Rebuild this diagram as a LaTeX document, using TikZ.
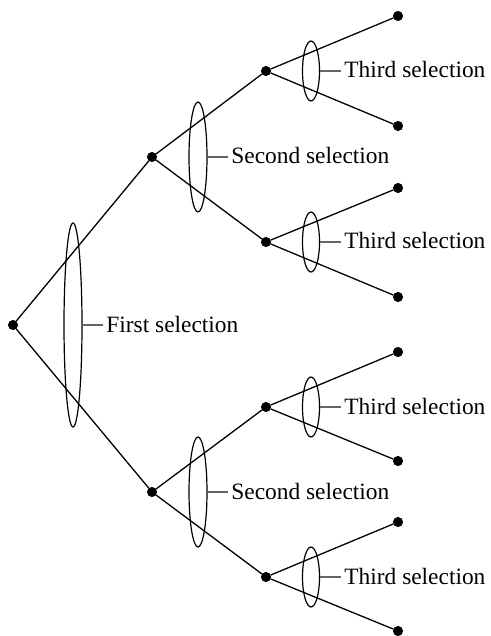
\documentclass[tikz,border=0pt]{standalone}
\usepackage{fontspec}
\setmainfont{Liberation Serif}
\usetikzlibrary{shapes.geometric}

\begin{document}
\begin{tikzpicture}[x=0.5pt, y=-0.5pt,
    dot/.style={draw=black, fill=black, circle, inner sep=0pt, minimum size=4.6pt},
    branch/.style={draw=black, line width=0.65pt},
    sel/.style={draw=black, line width=0.6pt, ellipse, inner sep=0pt},
    tag/.style={anchor=base west, inner xsep=1.5pt, inner ysep=0pt, font=\fontsize{11.7}{14}\selectfont},
    lead/.style={draw=black!60, line width=0.65pt}]
      \useasboundingbox (0,0) rectangle (491,636);
      % stages
      \node[dot] (R) at (13,325) {};
      \node[dot] (A) at (152,157) {};
      \node[dot] (B) at (152,492) {};
      \node[dot] (AA) at (266,71) {};
      \node[dot] (AB) at (266,242) {};
      \node[dot] (BA) at (266,407) {};
      \node[dot] (BB) at (266,577) {};
      %
      \node[dot] (AA1) at (398,16) {};
      \node[dot] (AA2) at (398,126) {};
      \node[dot] (AB1) at (398,188) {};
      \node[dot] (AB2) at (398,297) {};
      \node[dot] (BA1) at (398,352) {};
      \node[dot] (BA2) at (398,461) {};
      \node[dot] (BB1) at (398,522) {};
      \node[dot] (BB2) at (398,631) {};
      %
      \draw[branch] (R) -- (A);
      \draw[branch] (R) -- (B);
      \draw[branch] (A) -- (AA);
      \draw[branch] (A) -- (AB);
      \draw[branch] (B) -- (BA);
      \draw[branch] (B) -- (BB);
      \draw[branch] (AA) -- (AA1);
      \draw[branch] (AA) -- (AA2);
      \draw[branch] (AB) -- (AB1);
      \draw[branch] (AB) -- (AB2);
      \draw[branch] (BA) -- (BA1);
      \draw[branch] (BA) -- (BA2);
      \draw[branch] (BB) -- (BB1);
      \draw[branch] (BB) -- (BB2);
      % selections
      \node[sel, minimum width=9pt, minimum height=102pt] (E1) at (73,325) {};
      \node[sel, minimum width=9pt, minimum height=55pt] (E2) at (198,157) {};
      \node[sel, minimum width=9pt, minimum height=55pt] (E3) at (198,492) {};
      \node[sel, minimum width=8.5pt, minimum height=30pt] (E4) at (311,71) {};
      \node[sel, minimum width=8.5pt, minimum height=30pt] (E5) at (311,242) {};
      \node[sel, minimum width=8.5pt, minimum height=30pt] (E6) at (311,407) {};
      \node[sel, minimum width=8.5pt, minimum height=30pt] (E7) at (311,577) {};
      %
      \node[tag] (L1) at (103,332) {First selection};
      \node[tag] (L2) at (228,164) {Second selection};
      \node[tag] (L3) at (228,499) {Second selection};
      \node[tag] (L4) at (341,78) {Third selection};
      \node[tag] (L5) at (341,249) {Third selection};
      \node[tag] (L6) at (341,414) {Third selection};
      \node[tag] (L7) at (341,584) {Third selection};
      %
      \draw[lead] (E1.east) -- (E1.east -| L1.west);
      \draw[lead] (E2.east) -- (E2.east -| L2.west);
      \draw[lead] (E3.east) -- (E3.east -| L3.west);
      \draw[lead] (E4.east) -- (E4.east -| L4.west);
      \draw[lead] (E5.east) -- (E5.east -| L5.west);
      \draw[lead] (E6.east) -- (E6.east -| L6.west);
      \draw[lead] (E7.east) -- (E7.east -| L7.west);
\end{tikzpicture}
\end{document}
